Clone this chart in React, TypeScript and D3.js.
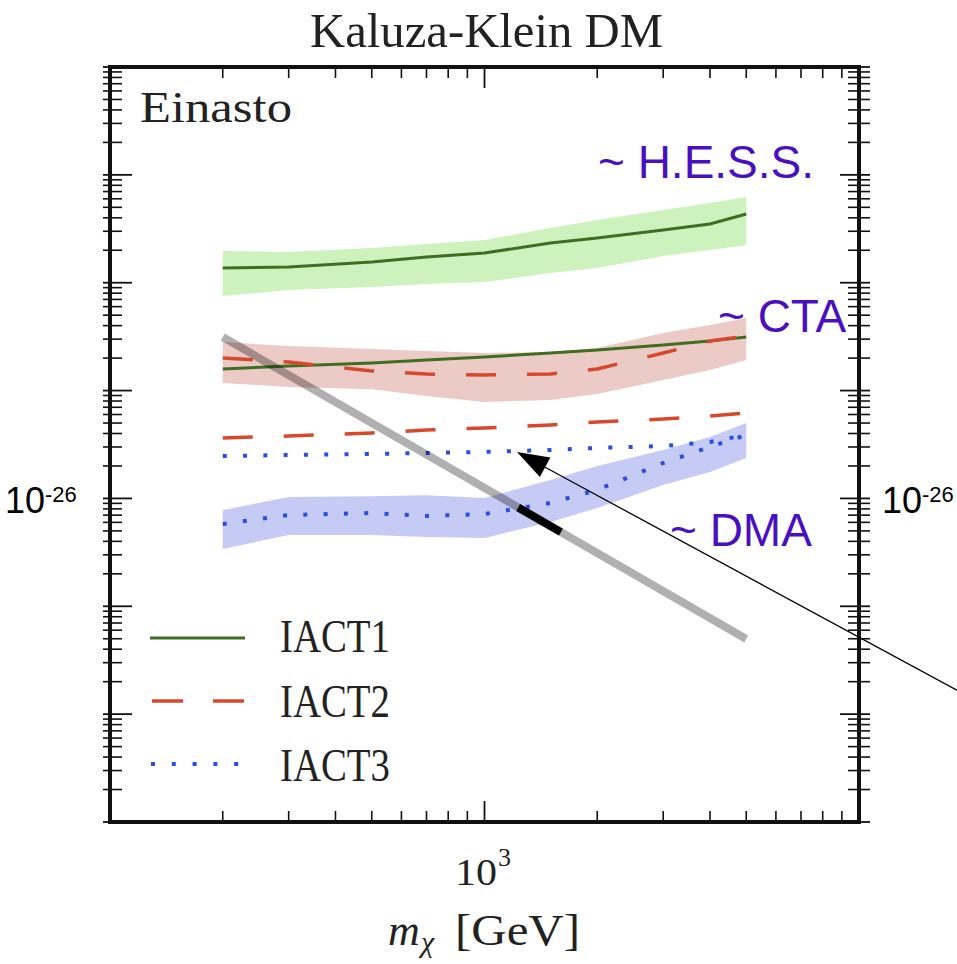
import * as d3 from "d3";

// masses (GeV) shared by all curves
const masses = [200, 300, 500, 700, 1000, 1500, 2000, 3000, 4000, 5000];

// <sigma v> in units of 1e-26 cm^3/s
const iact1Hess = [136.9, 139.9, 155.6, 173.2, 188.6, 233.5, 259.8, 308, 350, 434];
const iact1HessHi = [196.9, 192.7, 209.8, 228.6, 249, 321.6, 381.6, 472, 548, 623];
const iact1HessLo = [75.3, 85.6, 91.3, 97.3, 101.6, 123.1, 136.9, 176.9, 201.1, 223.7];
const iact1Cta = [15.85, 16.9, 18.0, 19.2, 20.5, 22.3, 23.8, 26.5, 28.8, 31.4];

const iact2Cta = [20.05, 18.4, 15.2, 14.25, 13.95, 14.25, 15.85, 22.3, 28.8, 32.1];
const iact2CtaHi = [28.2, 25.9, 24.3, 23.3, 22.3, 22.8, 24.8, 34.2, 40.6, 47.1];
const iact2CtaLo = [11.76, 10.8, 10.3, 8.91, 7.84, 8.18, 9.3, 12.5, 15.5, 19.2];
const iact2Dma = [3.63, 3.79, 4.04, 4.31, 4.5, 4.8, 5.11, 5.45, 5.81, 6.2];

const iact3Upper = [2.47, 2.53, 2.58, 2.64, 2.7, 2.81, 2.94, 3.06, 3.34, 3.88];
const iact3Dma = [0.579, 0.702, 0.733, 0.688, 0.717, 0.907, 1.2, 2.13, 3.0, 3.88];
const iact3DmaHi = [0.781, 1.03, 1.05, 1.07, 1.01, 1.48, 2.0, 2.81, 3.71, 5.01];
const iact3DmaLo = [0.34, 0.458, 0.458, 0.439, 0.43, 0.605, 0.815, 1.33, 1.76, 2.37];

// thermal-ish reference line and highlighted piece
const relicLine: [number, number][] = [[200, 31.4], [5000, 0.0497]];
const relicHighlight: [number, number][] = [[1230, 0.825], [1600, 0.487]];

const xMinor = [200, 300, 400, 500, 600, 700, 800, 900, 2000, 3000, 4000, 5000, 6000, 7000, 8000, 9000];
const xMajor = [1000];

const W = 957;
const H = 964;
const serif = "'Liberation Serif', 'DejaVu Serif', serif";
const sans = "'Liberation Sans', Arial, sans-serif";
const purple = "#4a10c0";

export default function App() {
  const x = d3.scaleLog().domain([100, 1e4]).range([110, 859]);
  const y = d3.scaleLog().domain([1e-3, 1e4]).range([822, 67]);
  const [x0, x1] = x.range();
  const [y0, y1] = y.range();

  const line = d3.line<[number, number]>().x((d) => x(d[0])).y((d) => y(d[1]));
  const pts = (vals: number[]) => masses.map((m, i) => [m, vals[i]] as [number, number]);
  const band = (lo: number[], hi: number[]) =>
    d3
      .area<number>()
      .x((m) => x(m))
      .y0((_, i) => y(lo[i]))
      .y1((_, i) => y(hi[i]))(masses) ?? "";

  const yMajor: number[] = [];
  const yMinor: number[] = [];
  for (let e = -3; e <= 4; e++) {
    yMajor.push(Math.pow(10, e));
    if (e < 4) for (let k = 2; k <= 9; k++) yMinor.push(k * Math.pow(10, e));
  }

  const green = "#3f6e22";
  const red = "#d8482c";
  const blue = "#2b4ee0";

  // arrow
  const tip: [number, number] = [517, 452];
  const tail: [number, number] = [962, 693];
  const ang = Math.atan2(tail[1] - tip[1], tail[0] - tip[0]);
  const hl = 32;
  const hw = 11;
  const bx = tip[0] + hl * Math.cos(ang);
  const by = tip[1] + hl * Math.sin(ang);
  const head = [
    tip,
    [bx - hw * Math.sin(ang), by + hw * Math.cos(ang)],
    [bx + hw * Math.sin(ang), by - hw * Math.cos(ang)],
  ];

  return (
    <svg width={W} height={H} style={{ position: "absolute", left: 0, top: 0, background: "#fff" }}>
      <rect width={W} height={H} fill="#fff" />
      <text x={310} y={47} fontFamily={serif} fontSize={48} textLength={353} lengthAdjust="spacingAndGlyphs" fill="#222">
        Kaluza-Klein DM
      </text>

      {/* bands */}
      <path d={band(iact1HessLo, iact1HessHi)} fill="#cdf2bd" />
      <path d={band(iact2CtaLo, iact2CtaHi)} fill="#eccbc6" />
      <path d={band(iact3DmaLo, iact3DmaHi)} fill="#c6cbf6" />

      {/* curves */}
      <path d={line(pts(iact1Hess)) ?? ""} fill="none" stroke={green} strokeWidth={3} />
      <path d={line(pts(iact1Cta)) ?? ""} fill="none" stroke={green} strokeWidth={3} />
      <path d={line(pts(iact2Cta)) ?? ""} fill="none" stroke={red} strokeWidth={3.5} strokeDasharray="30 31" />
      <path d={line(pts(iact2Dma)) ?? ""} fill="none" stroke={red} strokeWidth={3.5} strokeDasharray="30 31" />
      <path d={line(pts(iact3Upper)) ?? ""} fill="none" stroke={blue} strokeWidth={4} strokeDasharray="4 16.3" />
      <path d={line(pts(iact3Dma)) ?? ""} fill="none" stroke={blue} strokeWidth={4} strokeDasharray="4 16.3" />

      <path d={line(relicLine) ?? ""} fill="none" stroke="#000" strokeOpacity={0.31} strokeWidth={8} />
      <path d={line(relicHighlight) ?? ""} fill="none" stroke="#000" strokeWidth={8} />

      {/* legend */}
      <line x1={150} x2={245} y1={638} y2={638} stroke={green} strokeWidth={3} />
      <line x1={152} x2={245} y1={701} y2={701} stroke={red} strokeWidth={3.5} strokeDasharray="31 30" />
      <line x1={151} x2={245} y1={764} y2={764} stroke={blue} strokeWidth={4} strokeDasharray="4 16.8" />
      {["IACT1", "IACT2", "IACT3"].map((t, i) => (
        <text key={t} x={280} y={652 + i * 64.5} fontFamily={serif} fontSize={46} textLength={110} lengthAdjust="spacingAndGlyphs" fill="#222">
          {t}
        </text>
      ))}
      <text x={140} y={122} fontFamily={serif} fontSize={44} textLength={152} lengthAdjust="spacingAndGlyphs" fill="#222">
        Einasto
      </text>

      {/* frame and ticks */}
      <g stroke="#111">
        {xMinor.map((t) => (
          <g key={"xm" + t}>
            <line x1={x(t)} x2={x(t)} y1={y0} y2={y0 - 11} strokeWidth={1.6} />
            <line x1={x(t)} x2={x(t)} y1={y1} y2={y1 + 11} strokeWidth={1.6} />
          </g>
        ))}
        {xMajor.map((t) => (
          <g key={"xM" + t}>
            <line x1={x(t)} x2={x(t)} y1={y0} y2={y0 - 21} strokeWidth={1.8} />
            <line x1={x(t)} x2={x(t)} y1={y1} y2={y1 + 21} strokeWidth={1.8} />
          </g>
        ))}
        {yMinor.map((t) => (
          <g key={"ym" + t}>
            <line x1={x0 - 7} x2={x0 + 12} y1={y(t)} y2={y(t)} strokeWidth={1.6} />
            <line x1={x1 + 11} x2={x1 - 11} y1={y(t)} y2={y(t)} strokeWidth={1.6} />
          </g>
        ))}
        {yMajor.map((t) => (
          <g key={"yM" + t}>
            <line x1={x0 - 7} x2={x0 + 22} y1={y(t)} y2={y(t)} strokeWidth={1.8} />
            <line x1={x1 + 11} x2={x1 - 19} y1={y(t)} y2={y(t)} strokeWidth={1.8} />
          </g>
        ))}
        <rect x={x0} y={y1} width={x1 - x0} height={y0 - y1} fill="none" strokeWidth={4} />
      </g>

      {/* axis labels */}
      <text x={455} y={885} fontFamily={serif} fontSize={38} textLength={42} lengthAdjust="spacingAndGlyphs" fill="#222">
        10
      </text>
      <text x={498} y={866} fontFamily={serif} fontSize={26} fill="#222">
        3
      </text>
      <text x={388} y={945} fontFamily={serif} fontSize={44} fontStyle="italic" fill="#222">
        m
      </text>
      <text x={421} y={952} fontFamily={serif} fontSize={30} fontStyle="italic" fill="#222">
        χ
      </text>
      <text x={455} y={945} fontFamily={serif} fontSize={44} textLength={125} lengthAdjust="spacingAndGlyphs" fill="#222">
        [GeV]
      </text>

      {/* annotations */}
      <text x={598} y={178} fontFamily={sans} fontSize={46} fill={purple}>~ H.E.S.S.</text>
      <text x={718} y={332} fontFamily={sans} fontSize={46} fill={purple}>~ CTA</text>
      <text x={670} y={546} fontFamily={sans} fontSize={46} fill={purple}>~ DMA</text>

      {[5, 882].map((lx) => (
        <g key={lx}>
          <text x={lx} y={513} fontFamily={sans} fontSize={36} fill="#000">10</text>
          <text x={lx + 40} y={502} fontFamily={sans} fontSize={22} fill="#000">-26</text>
        </g>
      ))}

      <line x1={tail[0]} y1={tail[1]} x2={bx} y2={by} stroke="#000" strokeWidth={1.3} />
      <polygon points={head.map((p) => p.join(",")).join(" ")} fill="#000" />
    </svg>
  );
}
